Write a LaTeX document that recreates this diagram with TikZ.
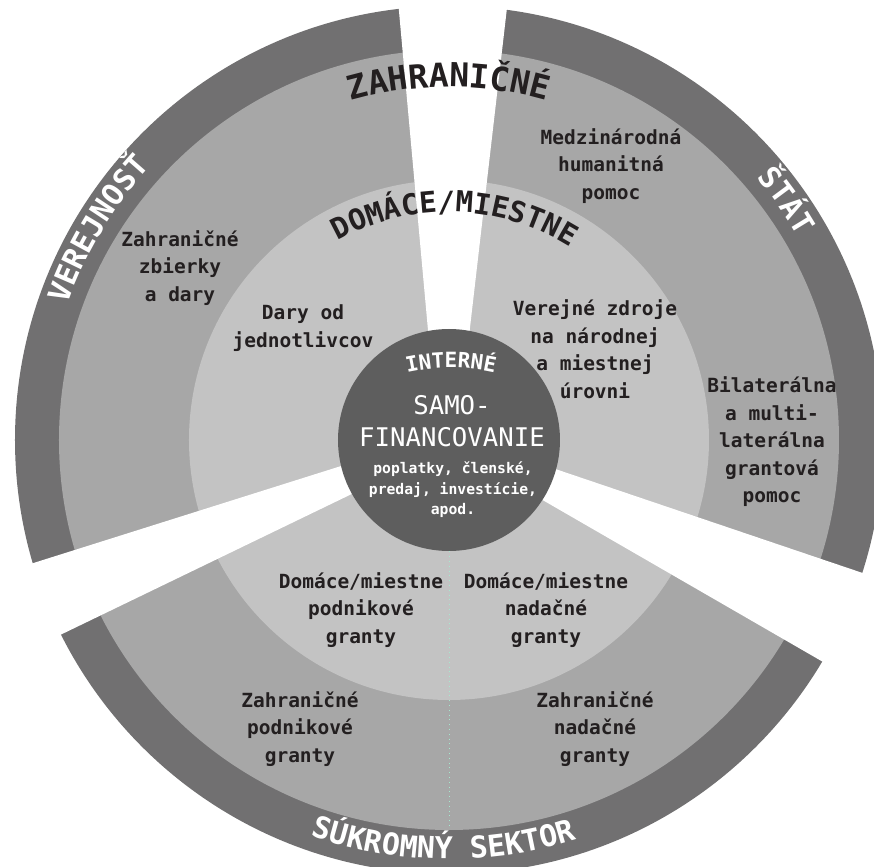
\documentclass[tikz,border=0pt]{standalone}
\usepackage{fontspec}
\setmainfont{DejaVu Sans Mono}
\usetikzlibrary{decorations.text}

\definecolor{bandgray}{HTML}{717071}
\definecolor{ringgray}{HTML}{A7A7A7}
\definecolor{innergray}{HTML}{C3C3C3}
\definecolor{coregray}{HTML}{5E5E5E}
\definecolor{ink}{HTML}{231F20}
\definecolor{seamgreen}{HTML}{A6EAD0}

\newcommand\outerzone{\color{ink}\bfseries\fontsize{16.5pt}{16.5pt}\selectfont}
\newcommand\innerzone{\color{ink}\bfseries\fontsize{14.5pt}{14.5pt}\selectfont}
\newcommand\bandlabel{\color{white}\bfseries\fontsize{15pt}{15pt}\selectfont}
\newcommand\corelabel{\color{white}\bfseries\fontsize{10.5pt}{10.5pt}\selectfont}

\begin{document}
\begin{tikzpicture}[x=0.5pt, y=0.5pt]
  \tikzstyle{gap}=[fill=white]
  \tikzstyle{field}=[text=ink, align=center, inner sep=0pt, font=\bfseries\fontsize{9.75pt}{13.75pt}\selectfont]
  \tikzstyle{core}=[circle, fill=coregray, minimum size=111pt, inner sep=0pt]
  \tikzstyle{corebig}=[text=white, align=center, inner sep=0pt, font=\fontsize{12.85pt}{16pt}\selectfont]
  \tikzstyle{coresmall}=[text=white, align=center, inner sep=0pt, font=\bfseries\fontsize{7.35pt}{10.25pt}\selectfont]
  \tikzstyle{seamline}=[seamgreen, dotted, line width=0.4pt]
  \useasboundingbox (-449,-427) rectangle (425,440);

  % rings
  \fill[bandgray] (0,0) circle[radius=434];
  \fill[ringgray] (0,0) circle[radius=390];
  \fill[innergray] (0,0) circle[radius=260];
  % gaps between the sectors
  \fill[gap] (-11,0) -- ([shift={(-11,0)}]95.2:500) -- ([shift={(8,0)}]83.4:500) -- (8,0) -- cycle;
  \fill[gap] (0,8) -- ([shift={(0,8)}]197.5:500) -- ([shift={(0,-7)}]205.8:500) -- (0,-7) -- cycle;
  \fill[gap] (0,7) -- ([shift={(0,7)}]-18.7:500) -- ([shift={(0,-6)}]-30:500) -- (0,-6) -- cycle;

  \node[core] (core) at (0,0) {};
  \coordinate (seamend) at (0,-388);
  \draw[seamline] (core.south) -- (seamend);

  % curved labels
  \path[decorate, decoration={text along path, text align=center, text={|\outerzone|ZAHRANIČNÉ}}]
    (120:353) arc[start angle=120, end angle=60, radius=353];
  \path[decorate, decoration={text along path, text align=center, text={|\innerzone|DOMÁCE/MIESTNE}}]
    (125:228) arc[start angle=125, end angle=52, radius=228];
  \path[decorate, decoration={text along path, text align=center, text={|\bandlabel|VEREJNOSŤ}}]
    (175:405) arc[start angle=175, end angle=123, radius=405];
  \path[decorate, decoration={text along path, text align=center, text={|\bandlabel|ŠTÁT}}]
    (55.3:404) arc[start angle=55.3, end angle=15.3, radius=404];
  \path[decorate, decoration={text along path, text align=center, text={|\bandlabel|SÚKROMNÝ SEKTOR}}]
    (240:419) arc[start angle=240, end angle=298.5, radius=419];
  \path[decorate, decoration={text along path, text align=center, text={|\corelabel|INTERNÉ}}]
    ([shift={(2,-128)}]110:200) arc[start angle=110, end angle=70, radius=200];

  \node[corebig] (samo) at (3,19) {SAMO-\\FINANCOVANIE};
  \node[coresmall] (fees) at (4,-50) {poplatky, členské,\\predaj, investície,\\apod.};

  \node[field] (fcoll) at (-269,172) {Zahraničné\\zbierky\\a dary};
  \node[field] (indiv) at (-146,112) {Dary od\\jednotlivcov};
  \node[field] (humaid) at (162,274) {Medzinárodná\\humanitná\\pomoc};
  \node[field] (pubsrc) at (146,91) {Verejné zdroje\\na národnej\\a miestnej\\úrovni};
  \node[field] (bilat) at (323,-2) {Bilaterálna\\a multi-\\laterálna\\grantová\\pomoc};
  \node[field] (dcorp) at (-88,-170) {Domáce/miestne\\podnikové\\granty};
  \node[field] (dfound) at (97,-170) {Domáce/miestne\\nadačné\\granty};
  \node[field] (fcorp) at (-149,-289) {Zahraničné\\podnikové\\granty};
  \node[field] (ffound) at (146,-289) {Zahraničné\\nadačné\\granty};
\end{tikzpicture}
\end{document}
